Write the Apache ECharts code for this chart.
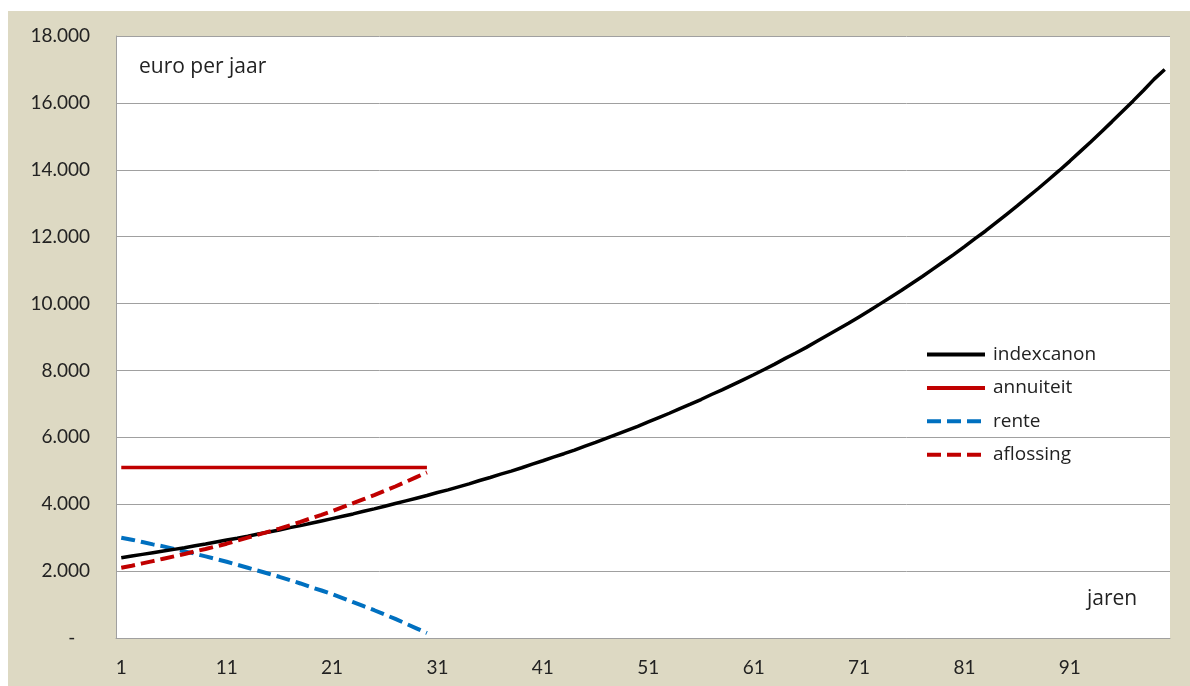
<!DOCTYPE html>
<html>
<head>
<meta charset="utf-8">
<script src="https://cdn.jsdelivr.net/npm/echarts@6/dist/echarts.min.js"></script>
<style>
  html, body { margin: 0; padding: 0; background: #ffffff; }
  #chart { width: 1190px; height: 686px; }
</style>
</head>
<body>
<div id="chart"></div>
<script>
// Jaren 1..100
const years = Array.from({ length: 100 }, (_, i) => String(i + 1));

// Geïndexeerde canon (euro per jaar)
const indexcanon = [
  2400, 2450, 2500, 2550, 2600, 2650, 2700, 2760, 2810, 2870,
  2930, 2980, 3040, 3110, 3170, 3230, 3300, 3360, 3430, 3500,
  3570, 3640, 3710, 3790, 3860, 3940, 4020, 4100, 4180, 4260,
  4350, 4430, 4520, 4610, 4710, 4800, 4900, 4990, 5090, 5200,
  5300, 5410, 5510, 5620, 5740, 5850, 5970, 6090, 6210, 6330,
  6460, 6590, 6720, 6860, 6990, 7130, 7280, 7420, 7570, 7720,
  7870, 8030, 8190, 8360, 8520, 8690, 8870, 9050, 9230, 9410,
  9600, 9790, 9990, 10190, 10390, 10600, 10810, 11030, 11250, 11470,
  11700, 11940, 12170, 12420, 12670, 12920, 13180, 13440, 13710, 13980,
  14260, 14550, 14840, 15140, 15440, 15750, 16060, 16380, 16710, 17000
];

// Annuïteit over 30 jaar
const annuiteit = [
  5100, 5100, 5100, 5100, 5100, 5100, 5100, 5100, 5100, 5100,
  5100, 5100, 5100, 5100, 5100, 5100, 5100, 5100, 5100, 5100,
  5100, 5100, 5100, 5100, 5100, 5100, 5100, 5100, 5100, 5100
];

// Rentedeel van de annuïteit
const rente = [
  3000, 2940, 2870, 2800, 2740, 2660, 2590, 2520, 2440, 2360,
  2280, 2190, 2100, 2010, 1920, 1830, 1730, 1630, 1520, 1420,
  1310, 1190, 1070, 950, 830, 700, 570, 430, 290, 150
];

// Aflossingsdeel van de annuïteit
const aflossing = [
  2100, 2160, 2230, 2300, 2370, 2440, 2510, 2590, 2660, 2740,
  2820, 2910, 3000, 3090, 3180, 3270, 3370, 3470, 3580, 3680,
  3790, 3910, 4030, 4150, 4270, 4400, 4530, 4670, 4810, 4950
];

const yTicks = { min: 0, max: 18000, interval: 2000 };

const AXIS_FONT = 'Lato';
const TEXT_FONT = '"Open Sans"';
const TEXT = '#222222';
const GRID = '#a0a0a0';
const DASH = [14, 6];

function fmtThousands(v) {
  if (v === 0) return '-   ';
  return String(v).replace(/\B(?=(\d{3})+(?!\d))/g, '.');
}

const chart = echarts.init(document.getElementById('chart'), null, { renderer: 'canvas' });

chart.setOption({
  animation: false,
  backgroundColor: '#ffffff',
  textStyle: { fontFamily: AXIS_FONT, color: TEXT },
  graphic: [
    {
      type: 'rect', z: -10, silent: true,
      shape: { x: 8, y: 11, width: 1182, height: 675 },
      style: { fill: '#ddd9c3' }
    },
    {
      type: 'text', z: 10, left: 139, top: 57,
      style: { text: 'euro per jaar', font: '21px ' + TEXT_FONT, fill: TEXT }
    },
    {
      type: 'text', z: 10, left: 1087, top: 589,
      style: { text: 'jaren', font: '21px ' + TEXT_FONT, fill: TEXT }
    }
  ],
  grid: {
    left: 116, right: 20, top: 36, bottom: 48,
    show: true, backgroundColor: '#ffffff', borderWidth: 0,
    containLabel: false
  },
  legend: {
    orient: 'vertical',
    left: 920, top: 340,
    itemWidth: 58, itemHeight: 14, itemGap: 14.4,
    itemStyle: { opacity: 0 },
    lineStyle: { width: 4 },
    textStyle: { fontFamily: TEXT_FONT, fontSize: 19, color: TEXT, padding: [0, 0, 0, 3] },
    data: ['indexcanon', 'annuiteit', 'rente', 'aflossing']
  },
  xAxis: {
    type: 'category',
    data: years,
    boundaryGap: true,
    axisLine: { show: true, lineStyle: { color: GRID, width: 1 } },
    axisTick: { show: false },
    axisLabel: {
      interval: 9, margin: 20,
      fontFamily: AXIS_FONT, fontSize: 19, color: TEXT
    },
    splitLine: { show: false }
  },
  yAxis: {
    type: 'value',
    min: yTicks.min, max: yTicks.max, interval: yTicks.interval,
    axisLine: { show: true, lineStyle: { color: GRID, width: 1 } },
    axisTick: { show: false },
    axisLabel: {
      margin: 26, fontFamily: AXIS_FONT, fontSize: 19, color: TEXT,
      formatter: fmtThousands
    },
    splitLine: { show: true, lineStyle: { color: GRID, width: 1 } }
  },
  series: [
    {
      name: 'indexcanon', type: 'line', data: indexcanon,
      showSymbol: false, symbol: 'none', smooth: false, z: 5,
      lineStyle: { color: '#000000', width: 3.5 },
      itemStyle: { color: '#000000' }
    },
    {
      name: 'annuiteit', type: 'line', data: annuiteit,
      showSymbol: false, symbol: 'none', z: 4,
      lineStyle: { color: '#c00000', width: 3.5 },
      itemStyle: { color: '#c00000' }
    },
    {
      name: 'rente', type: 'line', data: rente,
      showSymbol: false, symbol: 'none', z: 4,
      lineStyle: { color: '#0070c0', width: 4, type: DASH, cap: 'butt' },
      itemStyle: { color: '#0070c0' }
    },
    {
      name: 'aflossing', type: 'line', data: aflossing,
      showSymbol: false, symbol: 'none', z: 6,
      lineStyle: { color: '#c00000', width: 4, type: DASH, cap: 'butt' },
      itemStyle: { color: '#c00000' }
    }
  ]
});
</script>
</body>
</html>
